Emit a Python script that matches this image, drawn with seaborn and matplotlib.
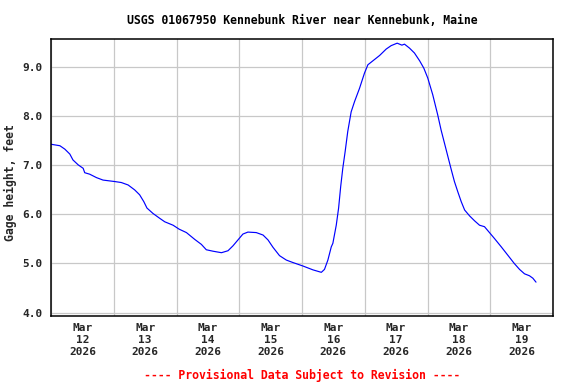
import matplotlib
matplotlib.use("Agg")
import matplotlib.pyplot as plt
import matplotlib.dates as mdates
import seaborn as sns
import pandas as pd
import numpy as np

# hours since 2026-03-12 00:00
hours = [0.0, 3.4, 5.3, 7.2, 8.4, 10.4, 12.3, 12.9, 14.8, 17.4, 19.9, 24.4, 26.9, 29.5,
         32.0, 33.9, 35.5, 36.7, 39.0, 41.6, 43.5, 46.7, 49.0, 51.8, 55.0, 57.5, 59.4,
         62.0, 65.2, 67.7, 69.6, 71.5, 73.4, 75.3, 78.5, 81.1, 83.0, 84.9, 87.4, 90.0,
         92.5, 96.3, 100.2, 103.4, 104.6, 105.9, 107.2, 107.8, 109.1, 110.0, 110.8,
         111.6, 112.5, 113.5, 114.8, 116.1, 118.0, 119.9, 121.2, 123.1, 125.7, 128.2,
         130.1, 132.4, 134.2, 135.2, 137.1, 139.0, 141.0, 142.6, 144.1, 146.0, 147.9,
         149.2, 150.5, 151.8, 153.1, 154.3, 155.6, 156.9, 158.2, 160.1, 162.0, 163.9,
         165.8, 167.7, 169.6, 172.2, 174.7, 177.2, 179.2, 181.1, 183.0, 184.3, 185.5]
gage_ft = [7.43, 7.40, 7.33, 7.23, 7.11, 7.01, 6.94, 6.85, 6.82, 6.75, 6.70, 6.67, 6.65, 6.60,
           6.50, 6.40, 6.26, 6.13, 6.02, 5.92, 5.85, 5.78, 5.70, 5.63, 5.49, 5.39, 5.28,
           5.25, 5.22, 5.26, 5.36, 5.48, 5.60, 5.64, 5.63, 5.58, 5.48, 5.33, 5.16, 5.07,
           5.02, 4.95, 4.87, 4.82, 4.88, 5.07, 5.34, 5.41, 5.78, 6.13, 6.57,
           6.94, 7.28, 7.69, 8.09, 8.30, 8.57, 8.88, 9.05, 9.13, 9.24, 9.37,
           9.44, 9.49, 9.45, 9.47, 9.39, 9.29, 9.13, 8.98, 8.78, 8.44, 8.03,
           7.72, 7.45, 7.18, 6.91, 6.67, 6.46, 6.26, 6.09, 5.97, 5.87, 5.78,
           5.75, 5.63, 5.51, 5.34, 5.17, 5.00, 4.88, 4.79, 4.75, 4.70, 4.62]
y_ticks = [4.0, 5.0, 6.0, 7.0, 8.0, 9.0]
title = "USGS 01067950 Kennebunk River near Kennebunk, Maine"
ylabel = "Gage height, feet"
footer = "---- Provisional Data Subject to Revision ----"

start = pd.Timestamp("2026-03-12 00:00")
df = pd.DataFrame({"time": start + pd.to_timedelta(hours, unit="h"), "gage": gage_ft})

sns.set_style("white")
plt.rcParams["font.family"] = ["DejaVu Sans Mono", "DejaVu Sans"]
plt.rcParams["font.weight"] = "bold"

fig = plt.figure(figsize=(5.76, 3.84), dpi=100)
ax = fig.add_axes([51 / 576, 1 - 316 / 384, 502 / 576, 277 / 384])

sns.lineplot(data=df, x="time", y="gage", ax=ax, color="#0000FF", linewidth=0.85)

ax.set_xlim(start, start + pd.Timedelta(days=8))
ax.set_ylim(3.93, 9.575)

ax.xaxis.set_major_locator(mdates.DayLocator())
ax.xaxis.set_major_formatter(plt.NullFormatter())
ax.xaxis.set_minor_locator(mdates.HourLocator(byhour=[12]))
ax.xaxis.set_minor_formatter(mdates.DateFormatter("%b\n%d\n%Y"))
ax.set_yticks(y_ticks)
ax.set_yticklabels([f"{v:.1f}" for v in y_ticks])

ax.grid(True, which="major", axis="both", color="#C8C8C8", linewidth=0.9)
ax.tick_params(axis="both", which="both", length=0)
ax.tick_params(axis="x", which="minor", pad=5, labelsize=8)
ax.tick_params(axis="y", pad=6, labelsize=8)
for lab in ax.xaxis.get_minorticklabels():
    lab.set_fontweight("bold")
    lab.set_linespacing(1.25)
for lab in ax.get_yticklabels():
    lab.set_fontweight("bold")

for sp in ax.spines.values():
    sp.set_visible(True)
    sp.set_color("black")
    sp.set_linewidth(1.1)

ax.set_xlabel("")
ax.set_ylabel(ylabel, fontsize=8.3, fontweight="bold")
ax.yaxis.set_label_coords(-0.067, 0.48)

fig.text(302 / 576, 1 - 20 / 384, title, ha="center", va="center",
         fontsize=8.3, fontweight="bold", color="black")
fig.text(302 / 576, 9 / 384, footer, ha="center", va="center",
         fontsize=8.3, fontweight="bold", color="#FF0000")

fig.savefig("out.png", dpi=100, facecolor="white")
